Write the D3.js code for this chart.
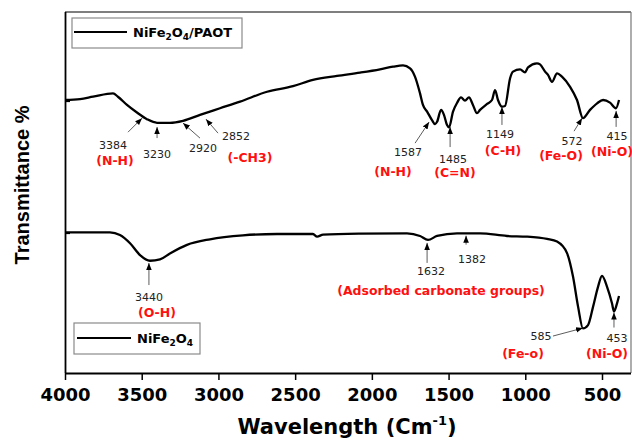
<!DOCTYPE html>
<html>
<head>
<meta charset="utf-8">
<script src="https://cdn.jsdelivr.net/npm/d3@7"></script>
<style>
  html, body { margin: 0; padding: 0; background: #fff; }
  svg { display: block; }
</style>
</head>
<body>
<svg id="chart" width="632" height="440"></svg>
<script>
// FTIR spectra: wavenumber (cm^-1) and transmittance (arbitrary offset units)
const compositeWn = [4000, 3902, 3817, 3687, 3655, 3596, 3531, 3466, 3400, 3316, 3231, 3120, 2990, 2859, 2683, 2514, 2384, 2227, 2077, 1947, 1862, 1797, 1751, 1719, 1686, 1667, 1640, 1608, 1588, 1575, 1549, 1530, 1510, 1497, 1471, 1445, 1419, 1393, 1367, 1341, 1315, 1295, 1249, 1217, 1197, 1178, 1152, 1132, 1099, 1080, 1034, 1002, 982, 924, 904, 871, 852, 826, 793, 761, 708, 663, 624, 578, 532, 493, 448, 409, 389];
const compositeT = [80.3, 80.6, 81.3, 82.3, 81.3, 78.8, 76.5, 74.5, 73.4, 73.4, 74.0, 75.8, 77.8, 79.8, 82.8, 84.5, 86.4, 87.6, 88.6, 89.6, 90.4, 90.8, 89.9, 87.4, 82.3, 78.8, 76.8, 74.2, 73.0, 73.7, 77.3, 75.8, 72.7, 72.0, 76.8, 79.4, 81.1, 80.1, 81.1, 78.8, 76.3, 77.3, 79.1, 80.3, 83.3, 80.3, 78.3, 78.5, 86.9, 88.9, 89.6, 88.7, 90.2, 91.4, 91.1, 88.9, 87.9, 85.8, 88.4, 87.4, 84.3, 80.3, 74.8, 77.3, 79.3, 80.3, 79.5, 77.8, 80.3];

const ferriteWn = [4000, 3707, 3642, 3576, 3511, 3446, 3381, 3316, 3205, 3055, 2840, 2618, 2384, 2357, 2318, 2077, 1771, 1686, 1634, 1575, 1445, 1295, 1119, 989, 858, 793, 728, 689, 656, 624, 591, 558, 526, 500, 467, 435, 422, 402, 389];
const ferriteT = [40.2, 40.2, 39.4, 36.9, 33.3, 31.6, 32.0, 33.8, 36.4, 38.1, 39.3, 39.7, 39.7, 38.9, 39.5, 39.8, 39.9, 39.1, 37.9, 39.1, 39.9, 39.9, 39.1, 38.9, 38.2, 37.4, 33.9, 26.8, 17.7, 11.1, 12.1, 17.7, 23.7, 27.0, 23.7, 18.7, 16.2, 18.7, 20.9];

const xTicks = [4000, 3500, 3000, 2500, 2000, 1500, 1000, 500];
const yTicks = [40, 80];

// Band assignments: arrow tip (wavenumber, transmittance), value label, group label
const compositeBandWn = [3498, 3400, 3231, 3081, 1627, 1490, 1152, 630, 408];
const compositeBandT = [74.8, 72.1, 73.3, 74.5, 73.6, 72.1, 78.2, 74.8, 77.0];
const compositeBandText = ["3384", "3230", "2920", "2852", "1587", "1485", "1149", "572", "415"];
const ferriteBandWn = [3453, 1640, 1386, 624, 422];
const ferriteBandT = [30.9, 37.0, 39.2, 11.2, 15.9];
const ferriteBandText = ["3440", "1632", "1382", "585", "453"];
const groupText = ["(N-H)", "(-CH3)", "(N-H)", "(C=N)", "(C-H)", "(Fe-O)", "(Ni-O)", "(O-H)", "(Adsorbed carbonate groups)", "(Fe-o)", "(Ni-O)"];

// ---- layout ----
const svg = d3.select("#chart");
const plotLeft = 65, plotRight = 631, plotTop = 12, plotBottom = 373;

const x = d3.scaleLinear().domain([4000, 311]).range([plotLeft, plotRight]);
const y = d3.scaleLinear().domain([-2.42, 106.97]).range([plotBottom, plotTop]);

const arrowDefs = svg.append("defs");
arrowDefs.append("marker")
  .attr("id", "head")
  .attr("markerUnits", "userSpaceOnUse")
  .attr("viewBox", "0 0 10 10")
  .attr("refX", 10).attr("refY", 5)
  .attr("markerWidth", 7).attr("markerHeight", 7)
  .attr("orient", "auto")
  .append("path").attr("d", "M0,1 L10,5 L0,9 Z").attr("fill", "#000");

// frame (top/right)
svg.append("line").attr("x1", plotLeft).attr("x2", plotRight).attr("y1", plotTop).attr("y2", plotTop)
  .attr("stroke", "#555").attr("stroke-width", 1.6);
svg.append("line").attr("x1", plotRight).attr("x2", plotRight).attr("y1", plotTop).attr("y2", plotBottom)
  .attr("stroke", "#777").attr("stroke-width", 1.2);

// x axis
const xAxis = svg.append("g").attr("transform", `translate(0,${plotBottom})`)
  .call(d3.axisBottom(x).tickValues(xTicks).tickSize(7).tickSizeOuter(0).tickFormat(d3.format("d")));
xAxis.select(".domain").attr("stroke", "#000").attr("stroke-width", 1.8).attr("d", `M${plotLeft},0.5H${plotRight}`);
xAxis.selectAll(".tick line").attr("stroke", "#000").attr("stroke-width", 1.5);
xAxis.selectAll(".tick text")
  .attr("font-family", "DejaVu Sans, sans-serif").attr("font-weight", "bold")
  .attr("font-size", 18).attr("fill", "#000").attr("dy", "1.0em");

// y axis: inward ticks, no labels
const yAxis = svg.append("g").attr("transform", `translate(${plotLeft},0)`)
  .call(d3.axisLeft(y).tickValues(yTicks).tickSize(-5).tickSizeOuter(0).tickFormat(""));
yAxis.select(".domain").attr("stroke", "#000").attr("stroke-width", 1.8).attr("d", `M0.5,${plotTop}V${plotBottom}`);
yAxis.selectAll(".tick line").attr("stroke", "#000").attr("stroke-width", 1.2);

// axis titles
const title = svg.append("text")
  .attr("x", 347).attr("y", 434).attr("text-anchor", "middle")
  .attr("font-family", "DejaVu Sans, sans-serif").attr("font-weight", "bold")
  .attr("font-size", 21).attr("fill", "#000");
title.append("tspan").text("Wavelength (Cm");
title.append("tspan").attr("font-size", 13).attr("dy", -9).text("-1");
title.append("tspan").attr("dy", 9).text(")");

svg.append("text")
  .attr("transform", "translate(29,185) rotate(-90)")
  .attr("text-anchor", "middle")
  .attr("font-family", "Liberation Sans, Arial, sans-serif").attr("font-weight", "bold")
  .attr("font-size", 20).attr("fill", "#000")
  .text("Transmittance %");

// spectra
const line = d3.line().x(d => x(d[0])).y(d => y(d[1])).curve(d3.curveMonotoneX);
const composite = compositeWn.map((w, i) => [w, compositeT[i]]);
const ferrite = ferriteWn.map((w, i) => [w, ferriteT[i]]);
[composite, ferrite].forEach(series => {
  svg.append("path").datum(series).attr("d", line)
    .attr("fill", "none").attr("stroke", "#000").attr("stroke-width", 2.3)
    .attr("stroke-linejoin", "round");
});

// arrows + value labels; offsets: tail (dx,dy) and label centre (lx,ly) relative to tip
const compositeLayout = [
  {dx: -14, dy: 14, lx: -29, ly: 27},
  {dx: 0, dy: 11, lx: 0, ly: 27},
  {dx: 17, dy: 15, lx: 20, ly: 25},
  {dx: 12, dy: 14, lx: 30, ly: 17},
  {dx: -14, dy: 21, lx: -21, ly: 30},
  {dx: 0, dy: 20, lx: 3, ly: 32},
  {dx: 0, dy: 18, lx: -2, ly: 28},
  {dx: -8, dy: 13, lx: -10, ly: 23},
  {dx: 0, dy: 16, lx: 1, ly: 26}
];
const ferriteLayout = [
  {dx: 0, dy: 22, lx: 0, ly: 34},
  {dx: 0, dy: 20, lx: 4, ly: 29},
  {dx: 0, dy: 9, lx: 6, ly: 24},
  {dx: -30, dy: 8, lx: -42, ly: 8},
  {dx: 0, dy: 15, lx: 3, ly: 26}
];

function drawBands(wns, ts, texts, layout) {
  wns.forEach((w, i) => {
    const tx = x(w), ty = y(ts[i]), L = layout[i];
    svg.append("line")
      .attr("x1", tx + L.dx).attr("y1", ty + L.dy)
      .attr("x2", tx).attr("y2", ty)
      .attr("stroke", "#333").attr("stroke-width", 0.8)
      .attr("marker-end", "url(#head)");
    svg.append("text")
      .attr("x", tx + L.lx).attr("y", ty + L.ly)
      .attr("text-anchor", "middle").attr("dominant-baseline", "central")
      .attr("font-family", "DejaVu Sans, sans-serif").attr("font-size", 11)
      .attr("fill", "#222").text(texts[i]);
  });
}
drawBands(compositeBandWn, compositeBandT, compositeBandText, compositeLayout);
drawBands(ferriteBandWn, ferriteBandT, ferriteBandText, ferriteLayout);

// functional-group labels (centres)
const groupPos = [
  [115, 160], [250, 157], [393, 171], [455, 172], [503, 150], [561, 155], [612, 151],
  [157, 312], [441, 290], [523, 353], [607, 353]
];
groupText.forEach((t, i) => {
  svg.append("text")
    .attr("x", groupPos[i][0]).attr("y", groupPos[i][1])
    .attr("text-anchor", "middle").attr("dominant-baseline", "central")
    .attr("font-family", "DejaVu Sans, sans-serif").attr("font-weight", "bold")
    .attr("font-size", 12.5).attr("fill", "#ff1010").text(t);
});

// legends
function legend(bx, by, bw, bh, lx1, lx2, ly, tx, parts) {
  svg.append("rect").attr("x", bx).attr("y", by).attr("width", bw).attr("height", bh)
    .attr("fill", "#fff").attr("stroke", "#8a8a8a").attr("stroke-width", 1.2);
  svg.append("line").attr("x1", lx1).attr("x2", lx2).attr("y1", ly).attr("y2", ly)
    .attr("stroke", "#000").attr("stroke-width", 2);
  const t = svg.append("text").attr("x", tx).attr("y", ly + 5)
    .attr("font-family", "DejaVu Sans, sans-serif").attr("font-weight", "bold")
    .attr("font-size", 13).attr("fill", "#000");
  let shifted = false;
  parts.forEach(p => {
    const span = t.append("tspan").text(p.s);
    if (p.sub) { span.attr("font-size", 9).attr("dy", shifted ? 0 : 3); shifted = true; }
    else if (shifted) { span.attr("dy", -3); shifted = false; }
  });
}
legend(72, 18, 170, 30, 74, 127, 32, 133,
  [{s: "NiFe"}, {s: "2", sub: true}, {s: "O"}, {s: "4", sub: true}, {s: "/PAOT"}]);
legend(74, 323, 126, 31, 77, 131, 338, 137,
  [{s: "NiFe"}, {s: "2", sub: true}, {s: "O"}, {s: "4", sub: true}]);
</script>
</body>
</html>
